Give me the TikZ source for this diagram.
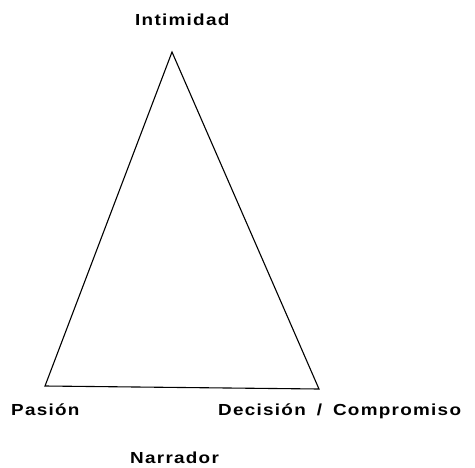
\documentclass[tikz,border=0pt]{standalone}
\usepackage{fontspec}
\setmainfont{Liberation Sans}
\newfontfamily\labfont[LetterSpace=8,FakeStretch=1.18]{Liberation Sans}
\begin{document}
\begin{tikzpicture}[x=1pt,y=-1pt,
  lab/.style={font=\labfont\bfseries\fontsize{16}{18}\selectfont, inner sep=0pt, anchor=base west},
  edge/.style={line width=1.1pt, line join=miter}]
\useasboundingbox (0,0) rectangle (475,467);
\coordinate (top) at (172,52);
\coordinate (left) at (45,386);
\coordinate (right) at (319,389);
\draw[edge] (top) -- (right) -- (left) -- cycle;
\node[lab] (intimidad) at (135,25) {Intimidad};
\node[lab] (pasion) at (11,415) {Pasión};
\node[lab] (decision) at (218,415) {Decisión\hspace{11pt}/\hspace{11pt}Compromiso};
\node[lab] (narrador) at (130,463) {Narrador};
\end{tikzpicture}
\end{document}
